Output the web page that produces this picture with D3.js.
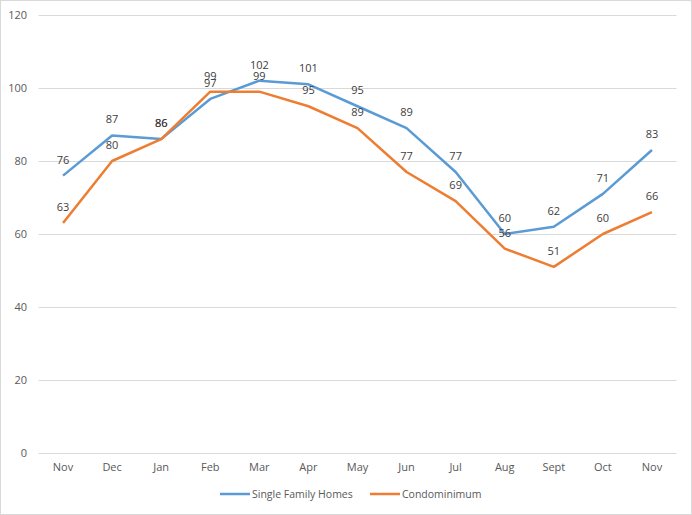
<!DOCTYPE html>
<html>
<head>
<meta charset="utf-8">
<script src="https://cdn.jsdelivr.net/npm/d3@7"></script>
<style>
  body { margin: 0; background: #fff; }
  text { font-family: "Open Sans", "Noto Sans", sans-serif; }
</style>
</head>
<body>
<div id="chart"></div>
<script>
// 数据
const months = ["Nov", "Dec", "Jan", "Feb", "Mar", "Apr", "May", "Jun", "Jul", "Aug", "Sept", "Oct", "Nov"];
const singleFamily = [76, 87, 86, 97, 102, 101, 95, 89, 77, 60, 62, 71, 83];
const condo = [63, 80, 86, 99, 99, 95, 89, 77, 69, 56, 51, 60, 66];
const yTicks = [0, 20, 40, 60, 80, 100, 120];
const seriesNames = ["Single Family Homes", "Condominimum"];

const width = 692, height = 515;
const margin = { top: 15, right: 15, bottom: 62, left: 38.5 };
const colors = ["#5b9bd5", "#ed7d31"];

const svg = d3.select("#chart").append("svg")
    .attr("width", width)
    .attr("height", height);

svg.append("rect")
    .attr("x", 0.5).attr("y", 0.5)
    .attr("width", width - 1).attr("height", height - 1)
    .attr("fill", "#fff")
    .attr("stroke", "#d9d9d9");

const x = d3.scaleBand()
    .domain(months.map((d, i) => i))
    .range([margin.left, 676.5]);

const y = d3.scaleLinear()
    .domain([0, 120])
    .range([453, 15]);

// 网格线
svg.append("g")
    .selectAll("line")
    .data(yTicks)
    .enter()
    .append("line")
    .attr("x1", margin.left)
    .attr("x2", 676.5)
    .attr("y1", d => Math.round(y(d)) + 0.5)
    .attr("y2", d => Math.round(y(d)) + 0.5)
    .attr("stroke", "#d9d9d9")
    .attr("stroke-width", 1);

// 坐标轴标签
svg.append("g")
    .selectAll("text")
    .data(yTicks)
    .enter()
    .append("text")
    .attr("x", 27)
    .attr("y", d => y(d))
    .attr("dy", "0.35em")
    .attr("text-anchor", "end")
    .attr("font-size", 11)
    .attr("fill", "#595959")
    .text(d => d);

svg.append("g")
    .selectAll("text")
    .data(months)
    .enter()
    .append("text")
    .attr("x", (d, i) => x(i) + x.bandwidth() / 2)
    .attr("y", 471)
    .attr("text-anchor", "middle")
    .attr("font-size", 11)
    .attr("fill", "#595959")
    .text(d => d);

// 折线
const line = d3.line()
    .x((d, i) => x(i) + x.bandwidth() / 2)
    .y(d => y(d));

[singleFamily, condo].forEach((values, k) => {
    svg.append("path")
        .datum(values)
        .attr("d", line)
        .attr("fill", "none")
        .attr("stroke", colors[k])
        .attr("stroke-width", 2.5)
        .attr("stroke-linejoin", "round");
});

// 数据标签
[singleFamily, condo].forEach((values) => {
    svg.append("g")
        .selectAll("text")
        .data(values)
        .enter()
        .append("text")
        .attr("x", (d, i) => x(i) + x.bandwidth() / 2)
        .attr("y", d => y(d) - 12)
        .attr("text-anchor", "middle")
        .attr("font-size", 11)
        .attr("fill", "#404040")
        .text(d => d);
});

// 图例
const legendX = [220, 370];
seriesNames.forEach((name, k) => {
    svg.append("line")
        .attr("x1", legendX[k]).attr("x2", legendX[k] + 30)
        .attr("y1", 494).attr("y2", 494)
        .attr("stroke", colors[k])
        .attr("stroke-width", 2.5);
    svg.append("text")
        .attr("x", legendX[k] + 32)
        .attr("y", 494)
        .attr("dy", "0.35em")
        .attr("font-size", 10.5)
        .attr("fill", "#595959")
        .text(name);
});
</script>
</body>
</html>
